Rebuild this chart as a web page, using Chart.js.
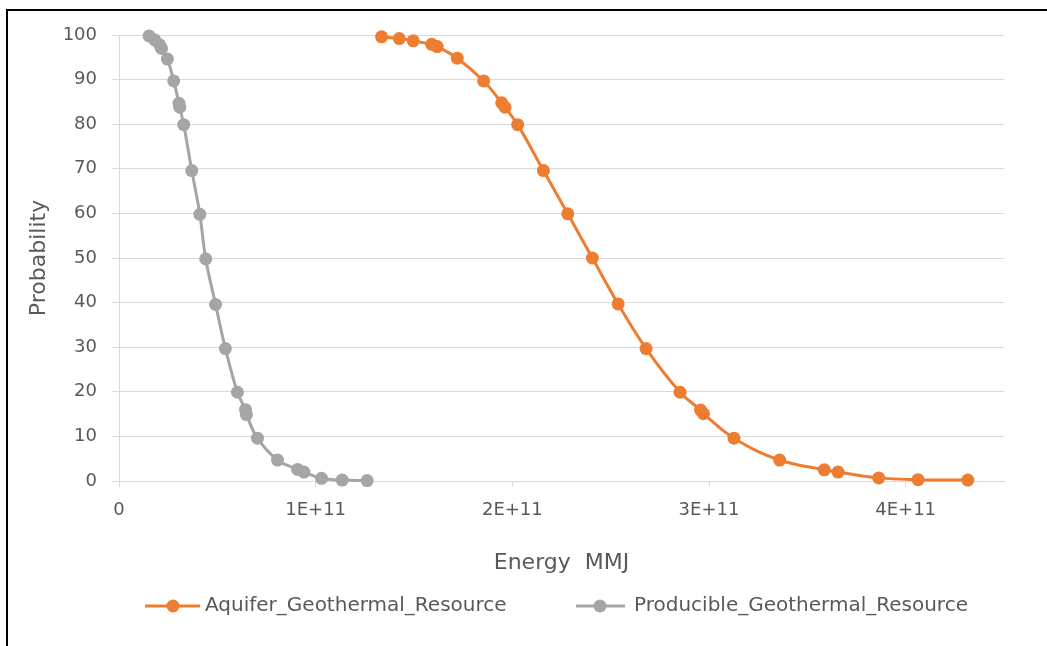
<!DOCTYPE html>
<html>
<head>
<meta charset="utf-8">
<script src="https://cdn.jsdelivr.net/npm/chart.js@4.4.1/dist/chart.umd.min.js"></script>
<style>
  html, body { margin: 0; padding: 0; background: #fff; overflow: hidden; }
  #wrap { position: relative; width: 1047px; height: 646px; overflow: hidden; }
  #frame { position: absolute; left: 6px; top: 9px; width: 2000px; height: 2000px; border: 2px solid #000; box-sizing: border-box; }
  #c { position: absolute; left: 0; top: 0; }
</style>
</head>
<body>
<div id="wrap">
  <div id="frame"></div>
  <canvas id="c" width="1047" height="646"></canvas>
</div>
<script>
// Energy (MMJ) and probability (%) values
const aquiferEnergy = [1.335e11, 1.425e11, 1.496e11, 1.590e11, 1.618e11, 1.720e11, 1.854e11, 1.946e11, 1.963e11, 2.027e11, 2.158e11, 2.282e11, 2.407e11, 2.538e11, 2.680e11, 2.853e11, 2.957e11, 2.972e11, 3.127e11, 3.359e11, 3.586e11, 3.656e11, 3.863e11, 4.063e11, 4.316e11];
const aquiferProb   = [99.6, 99.2, 98.7, 97.9, 97.4, 94.8, 89.7, 84.8, 83.8, 79.9, 69.6, 59.9, 50.0, 39.7, 29.7, 19.9, 15.9, 15.1, 9.6, 4.7, 2.5, 2.0, 0.7, 0.3, 0.2];

const producibleEnergy = [0.153e11, 0.182e11, 0.207e11, 0.216e11, 0.246e11, 0.278e11, 0.305e11, 0.309e11, 0.329e11, 0.370e11, 0.411e11, 0.441e11, 0.491e11, 0.541e11, 0.602e11, 0.643e11, 0.648e11, 0.704e11, 0.806e11, 0.908e11, 0.940e11, 1.030e11, 1.135e11, 1.262e11];
const producibleProb   = [99.8, 98.9, 97.8, 97.0, 94.6, 89.7, 84.7, 83.8, 79.9, 69.6, 59.8, 49.8, 39.6, 29.7, 19.9, 16.0, 14.9, 9.6, 4.7, 2.6, 2.0, 0.6, 0.2, 0.1];

const xTickValues = [0, 1e11, 2e11, 3e11, 4e11];
const seriesNames = ['Aquifer_Geothermal_Resource', 'Producible_Geothermal_Resource'];
const seriesColors = ['#ED7D31', '#A5A5A5'];

const FONT = '"DejaVu Sans", sans-serif';
const TEXT = '#595959';

function toPoints(xs, ys) { return xs.map((x, i) => ({ x: x, y: ys[i] })); }

const legendPlugin = {
  id: 'excelLegend',
  afterDraw(chart) {
    const ctx = chart.ctx;
    const items = [
      { name: seriesNames[0], color: seriesColors[0], x1: 145, x2: 200, dot: 173, tx: 205 },
      { name: seriesNames[1], color: seriesColors[1], x1: 576, x2: 625, dot: 600, tx: 634 }
    ];
    const y = 606;
    ctx.save();
    items.forEach(it => {
      ctx.strokeStyle = it.color;
      ctx.lineWidth = 3;
      ctx.beginPath(); ctx.moveTo(it.x1, y); ctx.lineTo(it.x2, y); ctx.stroke();
      ctx.fillStyle = it.color;
      ctx.beginPath(); ctx.arc(it.dot, y, 6.5, 0, Math.PI * 2); ctx.fill();
      ctx.fillStyle = TEXT;
      ctx.font = '20px ' + FONT;
      ctx.textBaseline = 'middle';
      ctx.textAlign = 'left';
      ctx.fillText(it.name, it.tx, y);
    });
    ctx.restore();
  }
};

new Chart(document.getElementById('c'), {
  type: 'scatter',
  data: {
    datasets: [
      {
        label: seriesNames[0],
        data: toPoints(aquiferEnergy, aquiferProb),
        showLine: true,
        borderColor: seriesColors[0],
        backgroundColor: seriesColors[0],
        borderWidth: 3,
        pointRadius: 6.5,
        pointHoverRadius: 6.5,
        pointBorderWidth: 0,
        tension: 0.4,
        clip: false
      },
      {
        label: seriesNames[1],
        data: toPoints(producibleEnergy, producibleProb),
        showLine: true,
        borderColor: seriesColors[1],
        backgroundColor: seriesColors[1],
        borderWidth: 3,
        pointRadius: 6.5,
        pointHoverRadius: 6.5,
        pointBorderWidth: 0,
        tension: 0.4,
        clip: false
      }
    ]
  },
  options: {
    responsive: false,
    animation: false,
    devicePixelRatio: 1,
    layout: { padding: { left: 0, top: 35, right: 43, bottom: 0 } },
    plugins: { legend: { display: false }, tooltip: { enabled: false } },
    scales: {
      x: {
        type: 'linear',
        min: 0,
        max: 4.5e11,
        afterBuildTicks(scale) { scale.ticks = xTickValues.map(v => ({ value: v })); },
        afterFit(scale) { scale.height = 646 - 481; },
        grid: { drawOnChartArea: false, drawTicks: true, tickLength: 6, color: '#D9D9D9', lineWidth: 1 },
        border: { display: true, color: '#D9D9D9', width: 1 },
        ticks: {
          color: TEXT,
          font: { family: FONT, size: 18 },
          padding: 13,
          maxRotation: 0,
          autoSkip: false,
          callback: v => v === 0 ? '0' : (v / 1e11) + 'E+11'
        },
        title: {
          display: true,
          text: 'Energy  MMJ',
          color: TEXT,
          font: { family: FONT, size: 22 },
          padding: { top: 0, bottom: 70 }
        }
      },
      y: {
        min: 0,
        max: 100,
        afterFit(scale) { scale.width = 119; },
        grid: { color: '#D9D9D9', lineWidth: 1, drawTicks: true, tickLength: 7 },
        border: { display: true, color: '#D9D9D9', width: 1 },
        ticks: {
          stepSize: 10,
          color: TEXT,
          font: { family: FONT, size: 18 },
          padding: 15
        },
        title: {
          display: true,
          text: 'Probability',
          color: TEXT,
          font: { family: FONT, size: 22 },
          padding: { top: 26, bottom: 0 }
        }
      }
    }
  },
  plugins: [legendPlugin]
});
</script>
</body>
</html>
